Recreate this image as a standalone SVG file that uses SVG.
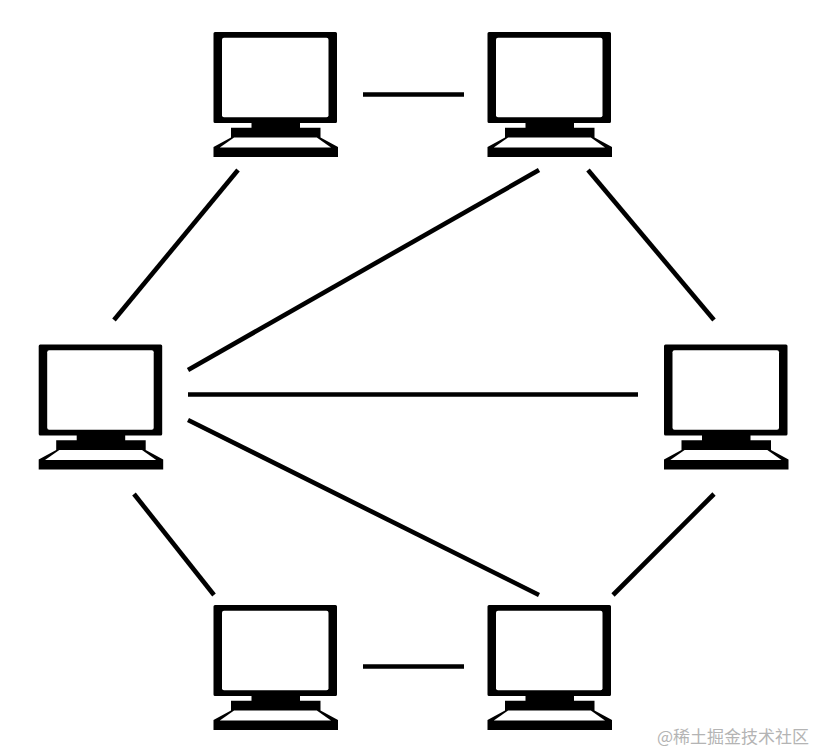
<svg xmlns="http://www.w3.org/2000/svg" width="816" height="755" viewBox="0 0 816 755">
<style>
.ln{stroke:#000;stroke-width:4.600;fill:none}
.wm{font-family:"Noto Sans CJK SC","Liberation Sans",sans-serif;font-size:17px;fill:#b4b4b4}
</style>
<defs>
<g id="pc">
<path fill="#000" d="M1.500 0H122a1.500 1.500 0 0 1 1.500 1.500V89.500a1.500 1.500 0 0 1-1.500 1.500H86.500V95.700H107V105.500L124.500 115V125H0V115L17.500 105.500V95.700H38V91H1.500A1.500 1.500 0 0 1 0 89.500V1.500A1.500 1.500 0 0 1 1.500 0Z"/>
<rect x="8.500" y="5.700" width="106.500" height="79.500" rx="2" fill="#fff"/>
<path fill="#fff" d="M20.600 105.500H103.300L117.500 115.500H6.300Z"/>
</g>
</defs>
<rect width="816" height="755" fill="#fff"/>
<g id="connectors">
<line class="ln" x1="363" y1="94.500" x2="464" y2="94.500"/>
<line class="ln" x1="238" y1="170" x2="114" y2="320"/>
<line class="ln" x1="539" y1="170" x2="188" y2="370"/>
<line class="ln" x1="588" y1="170" x2="714" y2="320"/>
<line class="ln" x1="188" y1="394.500" x2="638" y2="394.500"/>
<line class="ln" x1="188" y1="420" x2="539" y2="595"/>
<line class="ln" x1="134" y1="494" x2="214" y2="595"/>
<line class="ln" x1="714" y1="494" x2="613" y2="595"/>
<line class="ln" x1="363" y1="666.500" x2="464" y2="666.500"/>
</g>
<g id="node-top-left"><use href="#pc" x="213.500" y="32"/></g>
<g id="node-top-right"><use href="#pc" x="487.500" y="32"/></g>
<g id="node-left"><use href="#pc" x="38.700" y="344.500"/></g>
<g id="node-right"><use href="#pc" x="664" y="344.500"/></g>
<g id="node-bottom-left"><use href="#pc" x="213.500" y="605"/></g>
<g id="node-bottom-right"><use href="#pc" x="487.500" y="605"/></g>
<text class="wm" x="657" y="743">@稀土掘金技术社区</text>
</svg>
